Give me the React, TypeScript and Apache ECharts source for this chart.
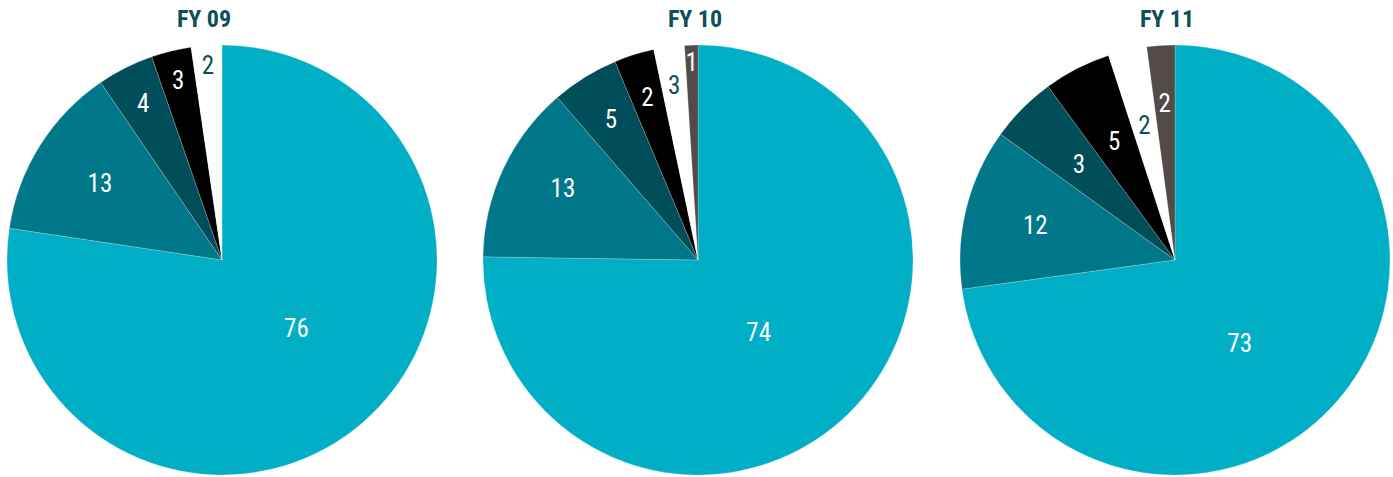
import React, { useEffect, useRef } from "react";
import * as echarts from "echarts";

// ---- data ----
const years = ["FY 09", "FY 10", "FY 11"];

// slice shares as drawn (percent of the full circle)
const fy09Shares = [77.4, 13.1, 4.25, 3.0, 2.3];
const fy10Shares = [75.2, 13.4, 5.05, 3.0, 2.3, 1.0];
const fy11Shares = [72.8, 12.1, 5.0, 5.05, 2.9, 2.1];

// printed labels
const fy09Labels = ["76", "13", "4", "3", "2"];
const fy10Labels = ["74", "13", "5", "2", "3", "1"];
const fy11Labels = ["73", "12", "3", "5", "2", "2"];

// ---- style ----
const palette = ["#00AEC6", "#007889", "#004E59", "#000000", "#FFFFFF", "#534B48"];
const labelColors = ["#FFFFFF", "#FFFFFF", "#FFFFFF", "#FFFFFF", "#0B4F5A", "#FFFFFF"];
const centers: [number, number][] = [
  [222, 260],
  [698, 260],
  [1175, 260],
];
const R = 215;
const titleX = [204, 695, 1167];
const titleY = 19;
// label placement: radial fraction and angular offset (deg) from the slice middle
const labelRadius = [
  [0.47, 0.67, 0.815, 0.86, 0.905],
  [0.44, 0.71, 0.77, 0.79, 0.82, 0.92],
  [0.49, 0.67, 0.63, 0.62, 0.64, 0.73],
];
const labelAngleOffset = [
  [-6.7, 0, 0, 0, 0],
  [4.7, 2.8, 0, 0, 0, 0],
  [11, 0, 0, 0, 0, 0],
];

const sharesList = [fy09Shares, fy10Shares, fy11Shares];
const labelsList = [fy09Labels, fy10Labels, fy11Labels];

const labelFont = '"Roboto Condensed", "Liberation Sans Narrow", Roboto, sans-serif';

function midAngle(shares: number[], idx: number): number {
  const total = shares.reduce((a, b) => a + b, 0);
  let cum = 0;
  for (let i = 0; i < idx; i++) cum += shares[i];
  return (360 * (cum + shares[idx] / 2)) / total;
}

export default function App() {
  const ref = useRef<HTMLDivElement>(null);
  useEffect(() => {
    if (!ref.current) return;
    const chart = echarts.init(ref.current, undefined, { renderer: "svg" });
    const series = sharesList.map((shares, s) => ({
      type: "pie",
      center: centers[s],
      radius: R,
      startAngle: 90,
      clockwise: true,
      avoidLabelOverlap: false,
      silent: true,
      itemStyle: { borderColor: "rgba(255,255,255,0.35)", borderWidth: 0.6 },
      label: {
        show: true,
        position: "inside",
        fontFamily: labelFont,
        fontSize: 25,
        fontWeight: "normal",
      },
      labelLine: { show: false },
      emphasis: { disabled: true },
      labelLayout: (params: any) => {
        const i = params.dataIndex;
        const th = ((midAngle(shares, i) + labelAngleOffset[s][i]) * Math.PI) / 180;
        const rr = labelRadius[s][i] * R;
        return {
          x: centers[s][0] + rr * Math.sin(th),
          y: centers[s][1] - rr * Math.cos(th),
          align: "center",
          verticalAlign: "middle",
          hideOverlap: false,
        };
      },
      data: shares.map((v, i) => ({
        value: v,
        name: labelsList[s][i] + "_" + i,
        itemStyle: { color: palette[i] },
        label: { color: labelColors[i], formatter: labelsList[s][i] },
      })),
    }));
    chart.setOption({
      animation: false,
      backgroundColor: "#FFFFFF",
      series,
      graphic: years.map((t, k) => ({
        type: "text",
        x: titleX[k],
        y: titleY,
        style: {
          text: t,
          fill: "#0B4F5A",
          font: 'bold 24px "Roboto Condensed", "Liberation Sans Narrow", Roboto, sans-serif',
          textAlign: "center",
          textVerticalAlign: "middle",
        },
      })),
    });
    return () => chart.dispose();
  }, []);
  return (
    <div
      ref={ref}
      style={{ position: "absolute", left: 0, top: 0, width: 1393, height: 477 }}
    />
  );
}
